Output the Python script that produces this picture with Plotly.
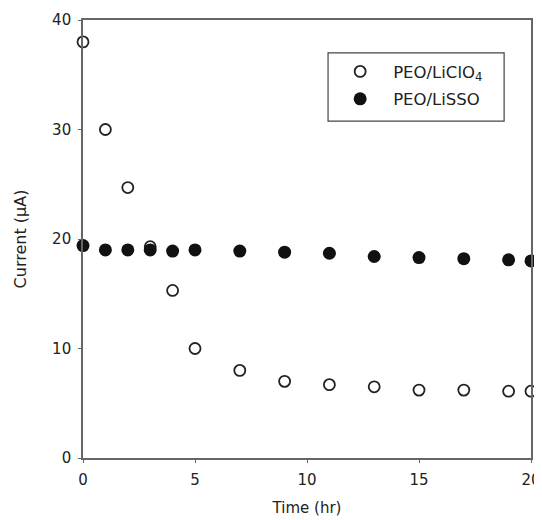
import plotly.graph_objects as go

time_hr = [0, 1, 2, 3, 4, 5, 7, 9, 11, 13, 15, 17, 19, 20]
liclo4 = [38.0, 30.0, 24.7, 19.3, 15.3, 10.0, 8.0, 7.0, 6.7, 6.5, 6.2, 6.2, 6.1, 6.1]
lisso = [19.4, 19.0, 19.0, 19.0, 18.9, 19.0, 18.9, 18.8, 18.7, 18.4, 18.3, 18.2, 18.1, 18.0]

x_ticks = [0, 5, 10, 15, 20]
y_ticks = [0, 10, 20, 30, 40]

FONT = "DejaVu Sans, Liberation Sans, Arial, sans-serif"

fig = go.Figure()
fig.add_trace(go.Scatter(
    x=time_hr, y=liclo4, mode="markers", name="PEO/LiClO<sub>4</sub>",
    legendgroup="a",
    marker=dict(symbol="circle-open", size=11, color="#222", line=dict(width=1.8)),
    cliponaxis=False,
))
fig.add_trace(go.Scatter(
    x=time_hr, y=lisso, mode="markers", name="PEO/LiSSO",
    legendgroup="b",
    marker=dict(symbol="circle", size=13, color="#111"),
    cliponaxis=False,
))

axis_common = dict(
    showline=True, linecolor="#666", linewidth=1.6, mirror=True,
    ticks="outside", ticklen=3, tickcolor="#666", tickwidth=1,
    showgrid=False, zeroline=False, automargin=False,
    ticklabelstandoff=4,
    tickfont=dict(family=FONT, size=15, color="#222"),
)

# legend frame
fig.add_shape(type="rect", xref="paper", yref="paper",
              x0=0.547, x1=0.940, y0=0.769, y1=0.925,
              line=dict(color="#444", width=1.2), fillcolor="rgba(0,0,0,0)")

fig.update_layout(
    width=542, height=520,
    paper_bgcolor="white", plot_bgcolor="white",
    margin=dict(l=75, r=19, t=12, b=70),
    font=dict(family=FONT, color="#222"),
    xaxis=dict(range=[0, 20], tickvals=x_ticks,
               title=dict(text="Time (hr)", font=dict(size=15), standoff=15),
               **axis_common),
    yaxis=dict(range=[0, 40], tickvals=y_ticks,
               title=dict(text="Current (μA)", font=dict(size=16), standoff=22),
               **axis_common),
    showlegend=True,
    legend=dict(
        x=0.545, y=0.922, xanchor="left", yanchor="top",
        borderwidth=0, bgcolor="rgba(0,0,0,0)",
        font=dict(family=FONT, size=16.5, color="#222"),
        itemwidth=56, tracegroupgap=3,
    ),
)

fig.write_html("out.html")
